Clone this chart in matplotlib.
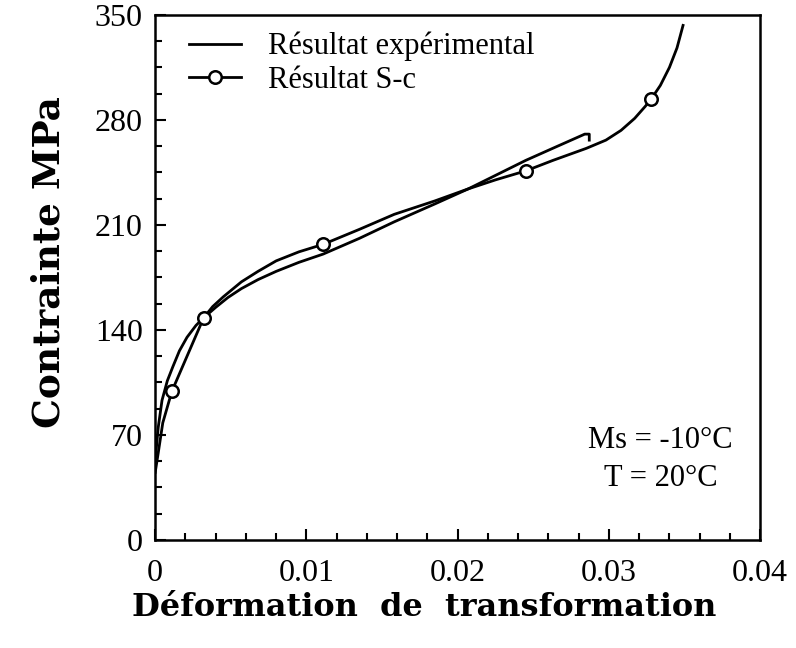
import numpy as np
import matplotlib
matplotlib.use("Agg")
import matplotlib.pyplot as plt
from matplotlib.ticker import MultipleLocator

exp_x = [0.0, 0.0002, 0.00045, 0.0008, 0.00117, 0.0016, 0.0021, 0.0027, 0.0032,
         0.004, 0.0048, 0.0057, 0.0068, 0.008, 0.0095, 0.0111, 0.0135, 0.0158,
         0.0185, 0.0207, 0.0225, 0.0245, 0.0265, 0.0284, 0.0287, 0.0287]
exp_y = [53, 75, 93, 106, 115.5, 126, 135, 143, 148,
         155, 161.5, 167.5, 173.5, 179, 185, 190.5, 201, 212,
         224, 234, 243, 253, 262, 270.5, 270.5, 266.5]

# Courbe S-c
sc_x = [0.0, 0.0002, 0.0005, 0.0011, 0.0017, 0.0023, 0.0032, 0.0038, 0.0045,
        0.0057, 0.0068, 0.008, 0.0095, 0.0111, 0.0135, 0.0158, 0.0185, 0.0207,
        0.0225, 0.0245, 0.0263, 0.0285, 0.0298, 0.0308, 0.0317, 0.0324, 0.0328,
        0.0334, 0.034, 0.0345, 0.0349]
sc_y = [45, 58, 78, 99, 113, 127, 148, 155.5, 162,
        172, 179, 186, 192, 197, 207, 217, 226, 234,
        240, 246, 253, 261, 266.5, 273, 281, 289, 294,
        303, 315, 328, 343]
sc_markers = [3, 6, 13, 19, 26]

x_ticks = [0, 0.01, 0.02, 0.03, 0.04]
x_tick_labels = ["0", "0.01", "0.02", "0.03", "0.04"]
y_ticks = [0, 70, 140, 210, 280, 350]

SERIF = ["Liberation Serif", "DejaVu Serif"]

fig = plt.figure(figsize=(7.96, 6.48), dpi=100)
ax = fig.add_axes([0.195, 0.167, 0.76, 0.81])

ax.plot(exp_x, exp_y, color="black", lw=2.0, label="Résultat expérimental")
ax.plot(sc_x, sc_y, color="black", lw=2.0, marker="o", markevery=sc_markers,
        markersize=9, markerfacecolor="white", markeredgewidth=1.8,
        label="Résultat S-c")

ax.set_xlim(0, 0.04)
ax.set_ylim(0, 350)
ax.set_xticks(x_ticks)
ax.set_xticklabels(x_tick_labels)
ax.set_yticks(y_ticks)
ax.xaxis.set_minor_locator(MultipleLocator(0.002))
ax.yaxis.set_minor_locator(MultipleLocator(17.5))
ax.tick_params(which="major", direction="in", length=8, width=1.5)
ax.tick_params(which="minor", direction="in", length=5, width=1.5)
ax.tick_params(axis="x", which="major", pad=14)
ax.tick_params(axis="y", which="major", pad=9)
for lab in ax.get_xticklabels() + ax.get_yticklabels():
    lab.set_fontfamily(SERIF)
    lab.set_fontsize(23)
for sp in ax.spines.values():
    sp.set_linewidth(1.8)

ax.set_xlabel("Déformation  de  transformation", fontfamily="DejaVu Serif",
              fontweight="bold", fontsize=23)
ax.xaxis.set_label_coords(0.445, -0.10)
ax.set_ylabel("Contrainte MPa", fontfamily="DejaVu Serif",
              fontweight="bold", fontsize=27)
ax.yaxis.set_label_coords(-0.145, 0.53)

ax.text(0.0334, 66, "Ms = -10°C", ha="center", va="center",
        fontfamily=SERIF, fontsize=22)
ax.text(0.0334, 41, "T = 20°C", ha="center", va="center",
        fontfamily=SERIF, fontsize=22)

leg = ax.legend(loc="upper left", bbox_to_anchor=(0.01, 1.02), frameon=False,
                prop={"family": SERIF, "size": 22}, handlelength=1.7,
                labelspacing=0.15, handletextpad=0.9)

fig.savefig("out.png", dpi=100)
